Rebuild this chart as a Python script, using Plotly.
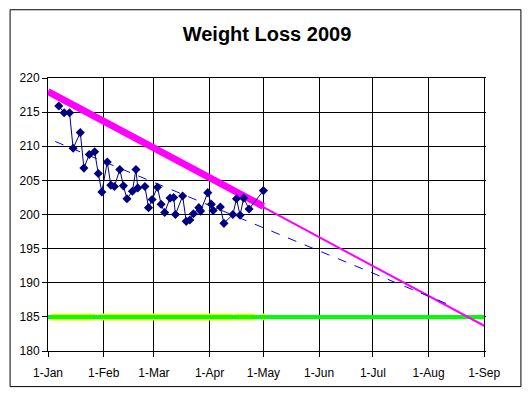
import plotly.graph_objects as go
import pandas as pd

# Weigh-ins: days after 1-Jan-2009 and weight (lbs)
weigh_days = [6, 9, 12, 14, 18, 20, 23, 26, 28, 30, 33, 35, 37, 40, 42, 44, 47, 49, 50, 54,
              56, 58, 61, 63, 65, 68, 70, 71, 75, 77, 79, 81, 84, 85, 89, 91, 92, 96, 98, 103,
              105, 107, 109, 112, 120]
weights = [215.9, 214.9, 214.9, 209.7, 212.0, 206.8, 208.8, 209.2, 206.0, 203.3, 207.7, 204.3,
           204.1, 206.6, 204.2, 202.3, 203.4, 206.6, 203.9, 204.1, 201.0, 202.2, 204.0, 201.5,
           200.3, 202.4, 202.5, 200.0, 202.7, 199.0, 199.2, 200.1, 201.0, 200.5, 203.2, 201.5,
           200.6, 201.1, 198.7, 200.0, 202.3, 199.9, 202.4, 200.8, 203.5]

target_dates = ['2009-01-01', '2009-09-01']
target_vals = [218.0, 183.7]
target_mark_dates = ['2009-01-01', '2009-05-01']
target_mark_vals = [218.0, 201.2]
trend_dates = ['2009-01-05', '2009-08-15']
trend_vals = [210.7, 186.5]
goal_dates = ['2009-01-01', '2009-09-01']
goal_vals = [185, 185]
goal_mark_dates = ['2009-01-03', '2009-01-27', None, '2009-01-29', '2009-04-14', None,
                   '2009-04-15', '2009-04-26', None, '2009-04-30', '2009-05-02']
goal_mark_vals = [185, 185, None, 185, 185, None, 185, 185, None, 185, 185]

dates = pd.Timestamp('2009-01-01') + pd.to_timedelta(weigh_days, unit='D')

fig = go.Figure()
fig.add_trace(go.Scatter(x=goal_mark_dates, y=goal_mark_vals, mode='lines',
                         line=dict(color='#FFFF00', width=7), hoverinfo='skip'))
fig.add_trace(go.Scatter(x=goal_dates, y=goal_vals, mode='lines',
                         line=dict(color='#00FF00', width=4)))
fig.add_trace(go.Scatter(x=target_dates, y=target_vals, mode='lines',
                         line=dict(color='#FF00FF', width=2)))
fig.add_trace(go.Scatter(x=target_mark_dates, y=target_mark_vals, mode='lines',
                         line=dict(color='#FF00FF', width=7)))
fig.add_trace(go.Scatter(x=trend_dates, y=trend_vals, mode='lines',
                         line=dict(color='#0000FF', width=1, dash='dash')))
fig.add_trace(go.Scatter(x=dates, y=weights, mode='lines+markers',
                         line=dict(color='#000080', width=1),
                         marker=dict(symbol='diamond', size=7, color='#000080')))

W, H = 515, 384
l, t, pw, ph = 39, 70, 439, 276
r, b = W - l - pw, H - t - ph
fig.add_shape(type='rect', xref='paper', yref='paper',
              x0=(1 - l) / pw, x1=(W - 2 - l) / pw,
              y0=-(b - 2) / ph, y1=1 + (t - 1) / ph,
              line=dict(color='black', width=1))

fig.update_layout(
    width=W, height=H, margin=dict(l=l, r=r, t=t, b=b),
    paper_bgcolor='white', plot_bgcolor='white', showlegend=False,
    title=dict(text='<b>Weight Loss 2009</b>', x=0.5, xref='paper', y=0.95,
               font=dict(family='Liberation Sans, Arial', size=20, color='black')),
    font=dict(family='Liberation Sans, Arial', size=12, color='black'),
    xaxis=dict(type='date', range=['2009-01-01', '2009-09-02'],
               tickvals=['2009-%02d-01' % m for m in range(1, 10)],
               ticktext=['1-Jan', '1-Feb', '1-Mar', '1-Apr', '1-May', '1-Jun', '1-Jul', '1-Aug', '1-Sep'],
               showgrid=True, gridcolor='black', gridwidth=1, ticklabelstandoff=6,
               showline=True, linecolor='black', ticks='outside', ticklen=5, tickcolor='black',
               mirror=True, zeroline=False),
    yaxis=dict(range=[180, 220], dtick=5, showgrid=True, gridcolor='black', gridwidth=1,
               showline=True, linecolor='black', ticks='outside', ticklen=5, tickcolor='black',
               zeroline=False),
)

fig.write_html('out.html')
